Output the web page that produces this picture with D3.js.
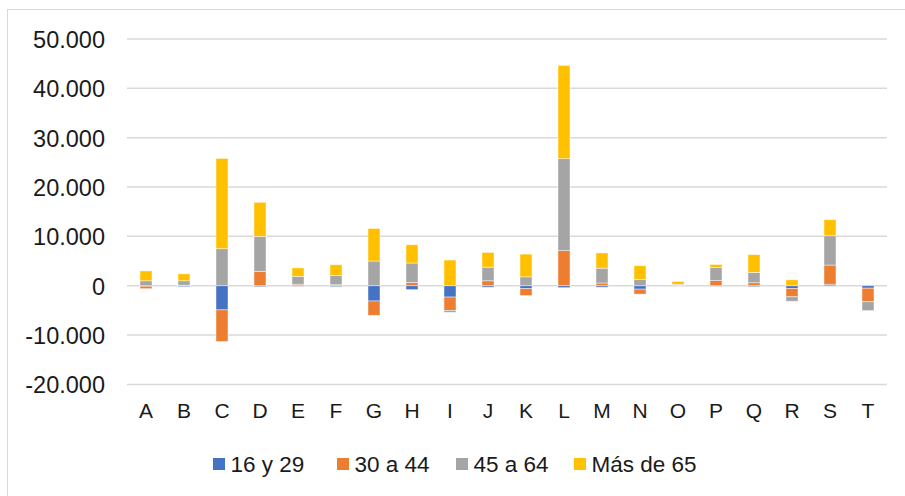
<!DOCTYPE html>
<html>
<head>
<meta charset="utf-8">
<script src="https://cdn.jsdelivr.net/npm/d3@7"></script>
<style>
  html, body { margin: 0; padding: 0; background: #fff; }
  svg { display: block; font-family: "Liberation Sans", Arial, sans-serif; }
</style>
</head>
<body>
<svg id="chart" width="905" height="496"></svg>
<script>
// Categories along the x axis
const categories = ["A","B","C","D","E","F","G","H","I","J","K","L","M","N","O","P","Q","R","S","T"];

// Age groups (series) and their colours
const seriesNames = ["16 y 29", "30 a 44", "45 a 64", "Más de 65"];
const seriesColors = ["#4472C4", "#ED7D31", "#A5A5A5", "#FFC000"];

// Values per series, one per category
const age16to29 = [-100, -200, -4900, -200, -100, -200, -3100, -800, -2300, -300, -600, -400, -300, -700, 0, -100, -200, -550, 300, -500];
const age30to44 = [-500, 100, -6400, 2900, 300, 200, -2900, 650, -2700, 1000, -1400, 7100, 550, -1000, 100, 1050, 600, -1700, 3890, -2750];
const age45to64 = [1000, 900, 7500, 7100, 1600, 1900, 5000, 3950, -400, 2750, 1800, 18650, 3000, 1250, 200, 2650, 2100, -900, 5940, -1800];
const age65plus = [2000, 1400, 18300, 6900, 1700, 2150, 6600, 3700, 5200, 3000, 4600, 18900, 3100, 2800, 580, 600, 3590, 1200, 3250, 0];

// Y axis ticks
const yTicks = [-20000, -10000, 0, 10000, 20000, 30000, 40000, 50000];

const svg = d3.select("#chart");

// Chart frame
svg.append("rect")
  .attr("x", 7.5).attr("y", 9.5)
  .attr("width", 910).attr("height", 500)
  .attr("fill", "#fff")
  .attr("stroke", "#d9d9d9")
  .attr("stroke-width", 1);

const x = d3.scaleBand()
  .domain(categories)
  .range([127, 887])
  .paddingInner(0.684)
  .paddingOuter(0.342);

const y = d3.scaleLinear()
  .domain([-20000, 50000])
  .range([384.4, 39]);

// Gridlines
svg.append("g")
  .selectAll("line")
  .data(yTicks)
  .join("line")
  .attr("x1", 127).attr("x2", 887)
  .attr("y1", d => y(d)).attr("y2", d => y(d))
  .attr("stroke", "#d9d9d9")
  .attr("stroke-width", 1.5);

// Y axis labels (thousands separated by a dot)
const fmt = d => d === 0 ? "0" : d3.format(",")(d).replace(/,/g, ".").replace("−", "-");
const yAxis = d3.axisLeft(y).tickValues(yTicks).tickSize(0).tickPadding(0).tickFormat(fmt);
const gy = svg.append("g").attr("transform", "translate(105,0)").call(yAxis);
gy.select(".domain").remove();
gy.selectAll("text")
  .attr("font-size", 23.5)
  .attr("fill", "#1a1a1a")
  .attr("font-family", "'Liberation Sans', Arial, sans-serif")
  .attr("dy", "0.36em");

// Stacked data with negative values going below zero
const table = categories.map((c, i) => ({
  cat: c,
  "16 y 29": age16to29[i],
  "30 a 44": age30to44[i],
  "45 a 64": age45to64[i],
  "Más de 65": age65plus[i]
}));
const stacked = d3.stack()
  .keys(seriesNames)
  .offset(d3.stackOffsetDiverging)(table);

svg.append("g")
  .selectAll("g")
  .data(stacked)
  .join("g")
  .attr("fill", (d, i) => seriesColors[i])
  .selectAll("rect")
  .data(d => d)
  .join("rect")
  .attr("x", d => x(d.data.cat))
  .attr("width", x.bandwidth())
  .attr("y", d => y(Math.max(d[0], d[1])))
  .attr("height", d => Math.abs(y(d[0]) - y(d[1])))
  .attr("stroke", "#ffffff")
  .attr("stroke-opacity", 0.6)
  .attr("stroke-width", 0.75);

// X axis category labels
const xAxis = d3.axisBottom(x).tickSize(0).tickPadding(0);
const gx = svg.append("g").attr("transform", "translate(0,418)").call(xAxis);
gx.select(".domain").remove();
gx.selectAll("text")
  .attr("font-size", 21)
  .attr("fill", "#1a1a1a")
  .attr("font-family", "'Liberation Sans', Arial, sans-serif")
  .attr("dy", 0)
  .attr("y", 0);

// Legend
const legendX = [213, 337, 456, 574];
const legend = svg.append("g")
  .selectAll("g")
  .data(seriesNames)
  .join("g")
  .attr("transform", (d, i) => `translate(${legendX[i]},0)`);
legend.append("rect")
  .attr("x", 0).attr("y", 458)
  .attr("width", 12).attr("height", 12)
  .attr("fill", (d, i) => seriesColors[i]);
legend.append("text")
  .attr("x", 17.5).attr("y", 472)
  .attr("font-size", 22.5)
  .attr("fill", "#1a1a1a")
  .text(d => d);
</script>
</body>
</html>
